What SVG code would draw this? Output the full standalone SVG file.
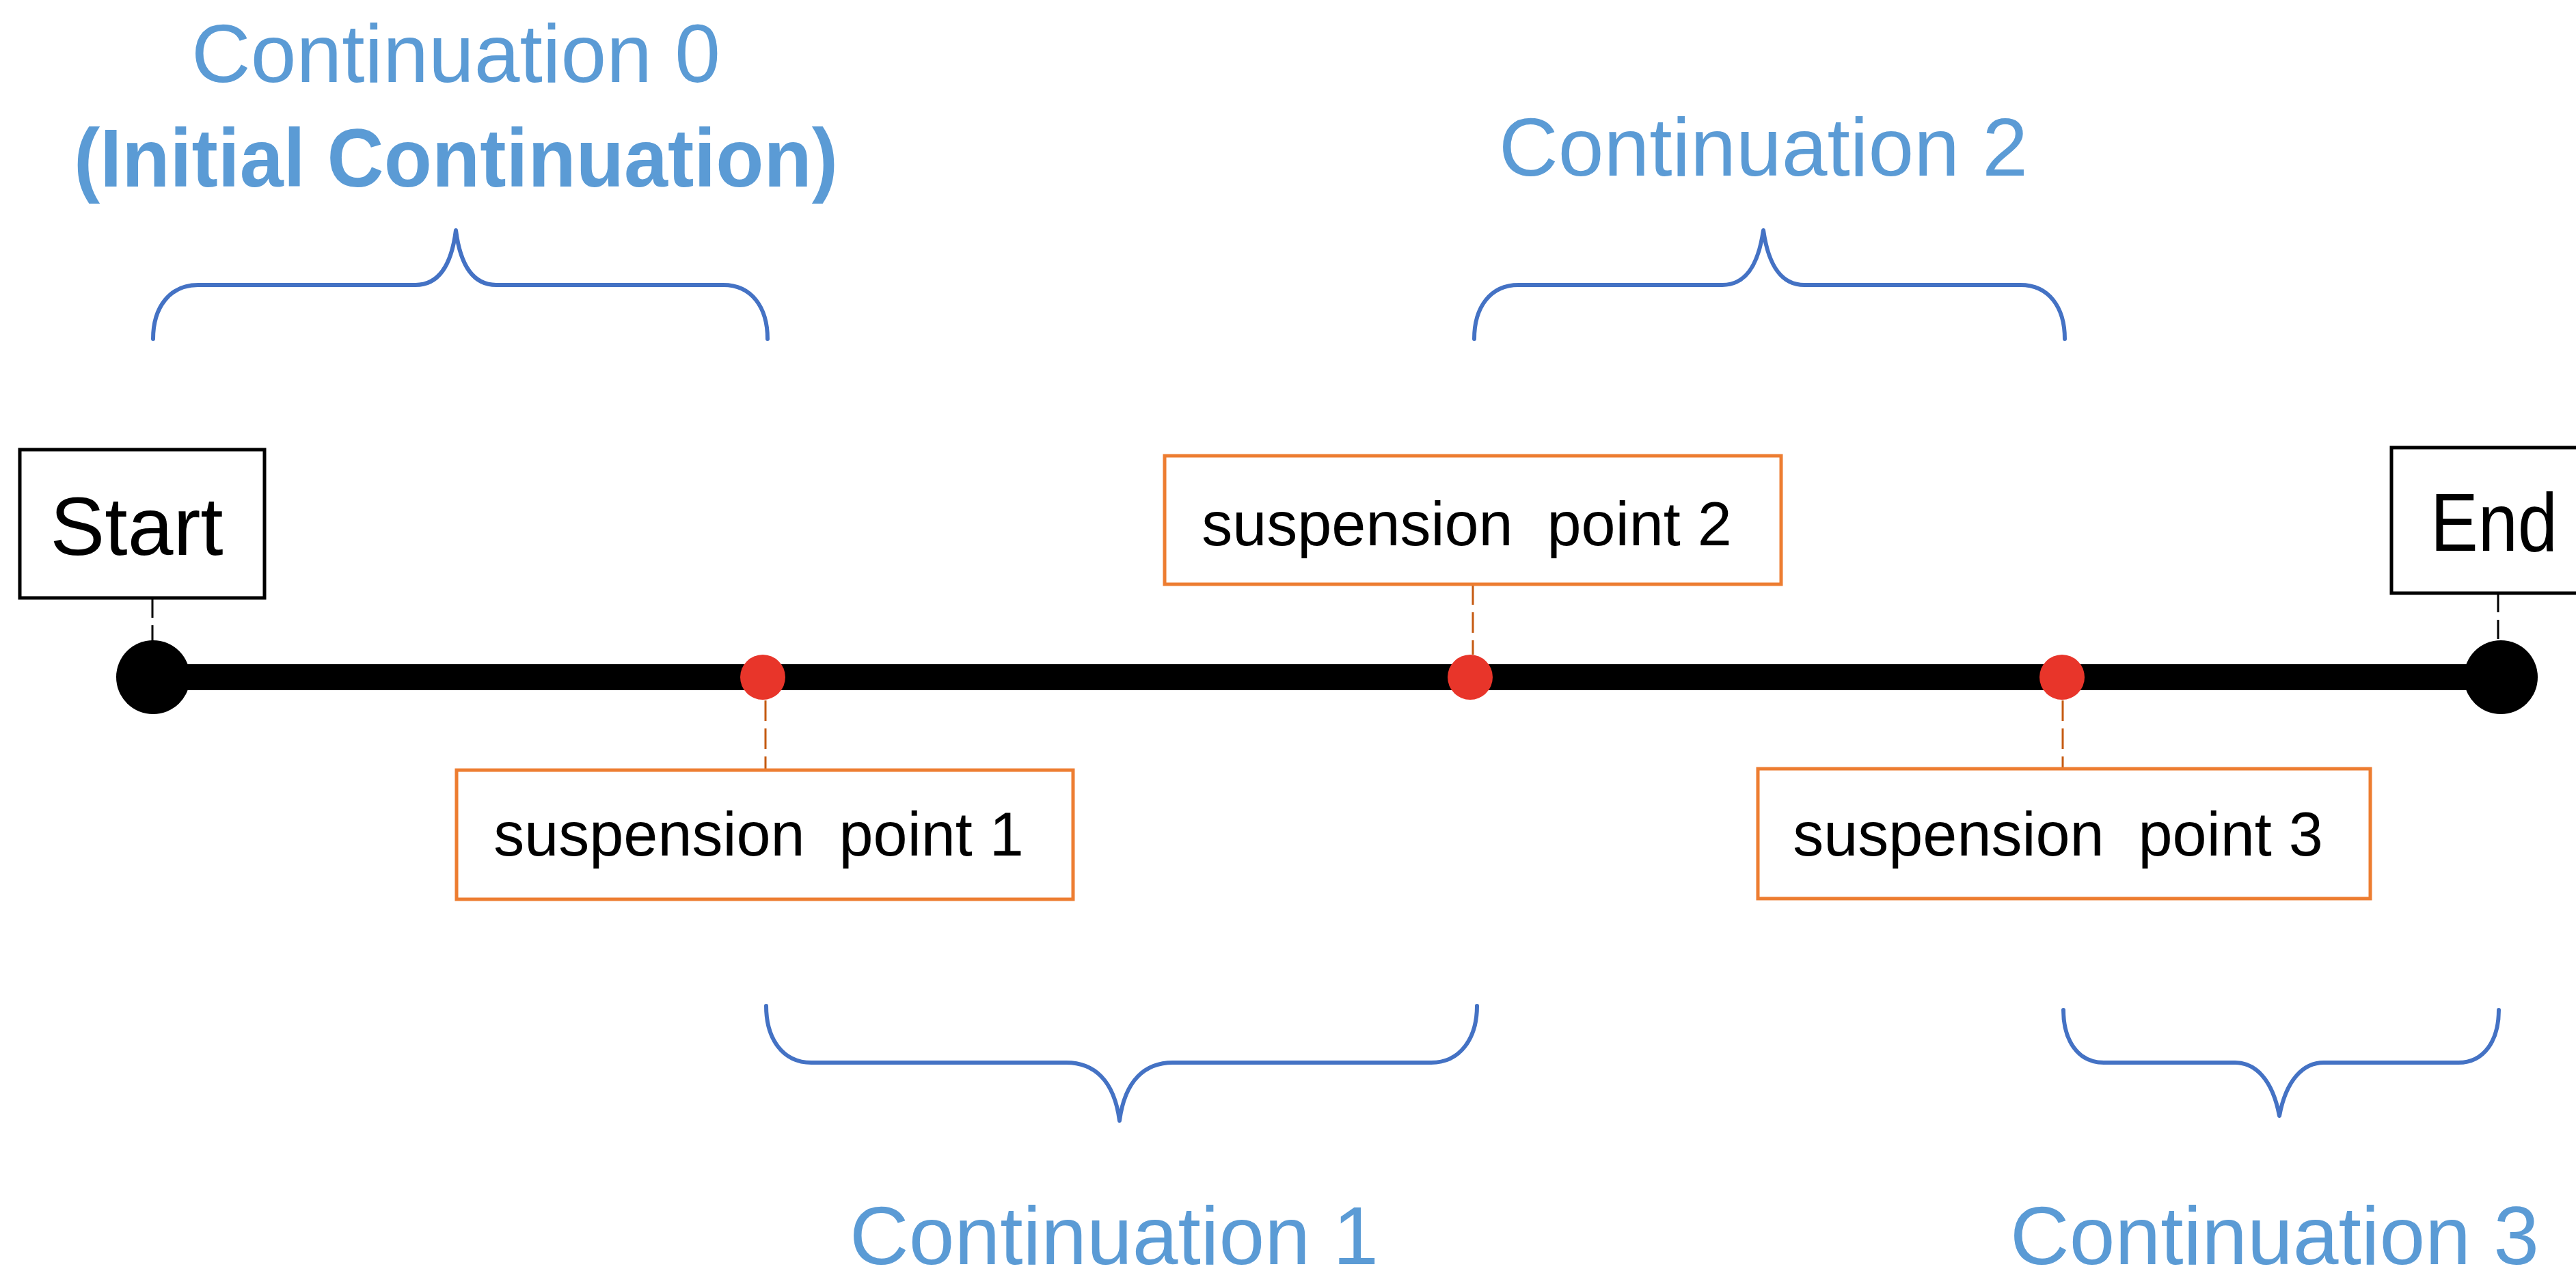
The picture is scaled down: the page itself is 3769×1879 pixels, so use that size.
<svg xmlns="http://www.w3.org/2000/svg" width="3769" height="1879" viewBox="0 0 3769 1879">
<style>
.lbl{font-family:"Liberation Sans",Arial,sans-serif;font-size:120px;fill:#5B9BD5;text-anchor:middle}
.bold{font-weight:bold}
.brace{fill:none;stroke:#4472C4;stroke-width:6;stroke-linecap:round;stroke-linejoin:round}
.term{fill:#fff;stroke:#000;stroke-width:5}
.termtxt{font-family:"Liberation Sans",Arial,sans-serif;font-size:120px;fill:#000;text-anchor:middle}
.sp{fill:#fff;stroke:#ED7D31;stroke-width:5}
.sptxt{font-family:"Liberation Sans",Arial,sans-serif;font-size:90px;fill:#000;text-anchor:middle;white-space:pre}
.dashk{stroke:#000;stroke-width:3;stroke-dasharray:28 11;fill:none}
.dasho{stroke:#C55A11;stroke-width:3;stroke-dasharray:30 11;fill:none}
.red{fill:#E8352A}
</style>
<rect width="3769" height="1879" fill="#fff"/>
<g id="connectors">
<line x1="224" y1="991" x2="3659" y2="991" stroke="#000" stroke-width="38"/>
<line class="dashk" x1="223" y1="876" x2="223" y2="940"/>
<line class="dashk" x1="3655" y1="868" x2="3655" y2="940"/>
<line class="dasho" x1="1120" y1="1025" x2="1120" y2="1127"/>
<line class="dasho" x1="2155" y1="855" x2="2155" y2="958"/>
<line class="dasho" x1="3018" y1="1025" x2="3018" y2="1125"/>
</g>
<g id="start">
<rect class="term" x="29" y="658" width="358" height="217"/>
<text class="termtxt" x="200" y="812">Start</text>
<circle cx="224" cy="991" r="54" fill="#000"/>
</g>
<g id="end">
<rect class="term" x="3499" y="655" width="300" height="213"/>
<text class="termtxt" x="3649" y="806" textLength="186" lengthAdjust="spacingAndGlyphs">End</text>
<circle cx="3659" cy="991" r="54" fill="#000"/>
</g>
<g id="sp1">
<circle class="red" cx="1116" cy="991" r="33"/>
<rect class="sp" x="668" y="1127" width="902" height="189"/>
<text class="sptxt" x="1110" y="1252" xml:space="preserve">suspension  point 1</text>
</g>
<g id="sp2">
<circle class="red" cx="2151" cy="991" r="33"/>
<rect class="sp" x="1704" y="667" width="902" height="188"/>
<text class="sptxt" x="2146" y="798" xml:space="preserve">suspension  point 2</text>
</g>
<g id="sp3">
<circle class="red" cx="3017" cy="991" r="33"/>
<rect class="sp" x="2572" y="1125" width="896" height="190"/>
<text class="sptxt" x="3011" y="1252" xml:space="preserve">suspension  point 3</text>
</g>
<g id="cont0">
<path class="brace" d="M224,496 C224,450 248,417 290,417 L608,417 C640,417 660,392 667,337 C674,392 694,417 726,417 L1058,417 C1100,417 1123,450 1123,496"/>
<text class="lbl" x="667" y="120">Continuation 0</text>
<text class="lbl bold" x="667" y="273" textLength="1118" lengthAdjust="spacingAndGlyphs">(Initial Continuation)</text>
</g>
<g id="cont2">
<path class="brace" d="M2157,496 C2157,450 2180,417 2222,417 L2520,417 C2552,417 2572,392 2580,337 C2588,392 2608,417 2640,417 L2956,417 C2998,417 3021,450 3021,496"/>
<text class="lbl" x="2580" y="257">Continuation 2</text>
</g>
<g id="cont1">
<path class="brace" d="M1121,1472 C1121,1520 1145,1555 1187,1555 L1560,1555 C1600,1555 1630,1580 1638,1640 C1646,1580 1676,1555 1716,1555 L2094,1555 C2136,1555 2161,1520 2161,1472"/>
<text class="lbl" x="1630" y="1850">Continuation 1</text>
</g>
<g id="cont3">
<path class="brace" d="M3019,1478 C3019,1522 3040,1555 3078,1555 L3270,1555 C3300,1555 3325,1580 3335,1633 C3345,1580 3370,1555 3400,1555 L3597,1555 C3635,1555 3656,1522 3656,1478"/>
<text class="lbl" x="3328" y="1850">Continuation 3</text>
</g>
</svg>
